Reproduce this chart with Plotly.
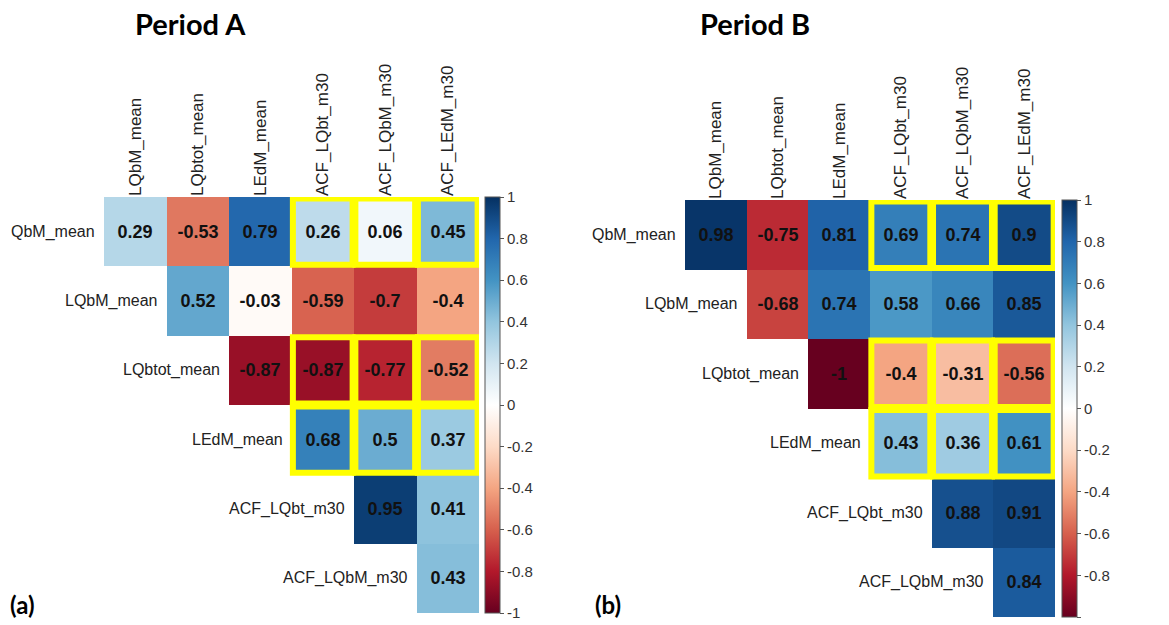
import plotly.graph_objects as go

row_vars = ["QbM_mean", "LQbM_mean", "LQbtot_mean", "LEdM_mean", "ACF_LQbt_m30", "ACF_LQbM_m30"]
col_vars = ["LQbM_mean", "LQbtot_mean", "LEdM_mean", "ACF_LQbt_m30", "ACF_LQbM_m30", "ACF_LEdM_m30"]

# upper-triangle values, row by row (row i starts at column i)
period_a = [
    [0.29, -0.53, 0.79, 0.26, 0.06, 0.45],
    [0.52, -0.03, -0.59, -0.7, -0.4],
    [-0.87, -0.87, -0.77, -0.52],
    [0.68, 0.5, 0.37],
    [0.95, 0.41],
    [0.43],
]
period_b = [
    [0.98, -0.75, 0.81, 0.69, 0.74, 0.9],
    [-0.68, 0.74, 0.58, 0.66, 0.85],
    [-1, -0.4, -0.31, -0.56],
    [0.43, 0.36, 0.61],
    [0.88, 0.91],
    [0.84],
]
highlight_rows = [0, 2, 3]
highlight_cols = [3, 4, 5]
titles = ["Period A", "Period B"]
panel_tags = ["(a)", "(b)"]
cbar_ticks = [1, 0.8, 0.6, 0.4, 0.2, 0, -0.2, -0.4, -0.6, -0.8, -1]

rdbu = ["#67001F", "#B2182B", "#D6604D", "#F4A582", "#FDDBC7", "#FFFFFF",
        "#D1E5F0", "#92C5DE", "#4393C3", "#2166AC", "#053061"]
colorscale = [[i / 10, c] for i, c in enumerate(rdbu)]

W, H = 1169, 625
panels = [
    dict(data=period_a, x0=104, x1=479, y0=197, y1=613, cbx=485, title_x=190, tag_x=22),
    dict(data=period_b, x0=685, x1=1055, y0=200, y1=617, cbx=1062, title_x=755, tag_x=608),
]

fig = go.Figure()
shapes = []
annotations = []
for k, p in enumerate(panels):
    n = len(row_vars)
    z = [[None] * n for _ in range(n)]
    txt = [[""] * n for _ in range(n)]
    for i, row in enumerate(p["data"]):
        for j, v in enumerate(row):
            z[i][i + j] = v
            txt[i][i + j] = "<b>" + ("%g" % v) + "</b>"
    xa = "x" if k == 0 else "x2"
    ya = "y" if k == 0 else "y2"
    cb_mid = 1 - (p["y0"] + p["y1"]) / 2 / H
    fig.add_trace(go.Heatmap(
        z=z, x=list(range(n)), y=list(range(n)), text=txt, texttemplate="%{text}",
        textfont=dict(family="Liberation Sans", size=18, color="#111111"),
        colorscale=colorscale, zmin=-1, zmax=1, xaxis=xa, yaxis=ya,
        hoverongaps=False,
        colorbar=dict(x=p["cbx"] / W, xanchor="left", y=cb_mid, yanchor="middle",
                      len=p["y1"] - p["y0"], lenmode="pixels", thickness=15,
                      xpad=0, ypad=0,
                      outlinewidth=1, outlinecolor="#555555",
                      tickvals=cbar_ticks, ticktext=["%g" % t for t in cbar_ticks],
                      ticks="outside", ticklen=4, tickcolor="#555555",
                      tickfont=dict(family="Liberation Sans", size=15, color="#333333")),
    ))
    axn = "" if k == 0 else "2"
    fig.update_layout(**{
        "xaxis" + axn: dict(domain=[p["x0"] / W, p["x1"] / W], range=[-0.5, n - 0.5],
                            side="top", tickvals=list(range(n)), ticktext=col_vars,
                            tickangle=-90, tickfont=dict(family="Liberation Sans", size=17, color="#222222"),
                            showgrid=False, zeroline=False, showline=False, ticks="",
                            anchor="y" + axn, fixedrange=True),
        "yaxis" + axn: dict(domain=[1 - p["y1"] / H, 1 - p["y0"] / H], range=[n - 0.5, -0.5],
                            showticklabels=False, showgrid=False, zeroline=False, showline=False,
                            ticks="", anchor="x" + axn, fixedrange=True),
    })
    for i, name in enumerate(row_vars):
        annotations.append(dict(x=i - 0.5, y=i, xref=xa, yref=ya, text=name, showarrow=False,
                                xanchor="right", yanchor="middle", xshift=-7,
                                font=dict(family="Liberation Sans", size=16, color="#222222")))
    ins = 0.022
    for r in highlight_rows:
        for c in highlight_cols:
            shapes.append(dict(type="rect", xref=xa, yref=ya,
                               x0=c - 0.5 + ins, x1=c + 0.5 - ins,
                               y0=r - 0.5 + ins, y1=r + 0.5 - ins,
                               line=dict(color="#FFFF00", width=6), fillcolor="rgba(0,0,0,0)"))
    annotations.append(dict(x=p["title_x"] / W, y=1 - 24 / H, xref="paper", yref="paper",
                            text="<b>" + titles[k] + "</b>", showarrow=False,
                            xanchor="center", yanchor="middle",
                            font=dict(family="Lato", size=29, color="#000000")))
    annotations.append(dict(x=p["tag_x"] / W, y=1 - 604 / H, xref="paper", yref="paper",
                            text="<b>" + panel_tags[k] + "</b>", showarrow=False,
                            xanchor="center", yanchor="middle",
                            font=dict(family="Lato", size=24, color="#000000")))

fig.update_layout(width=W, height=H, margin=dict(l=0, r=0, t=0, b=0),
                  paper_bgcolor="white", plot_bgcolor="white",
                  shapes=shapes, annotations=annotations, showlegend=False)
fig.write_html("out.html", config={"displayModeBar": False},
               post_script="document.body.style.margin='0';")
